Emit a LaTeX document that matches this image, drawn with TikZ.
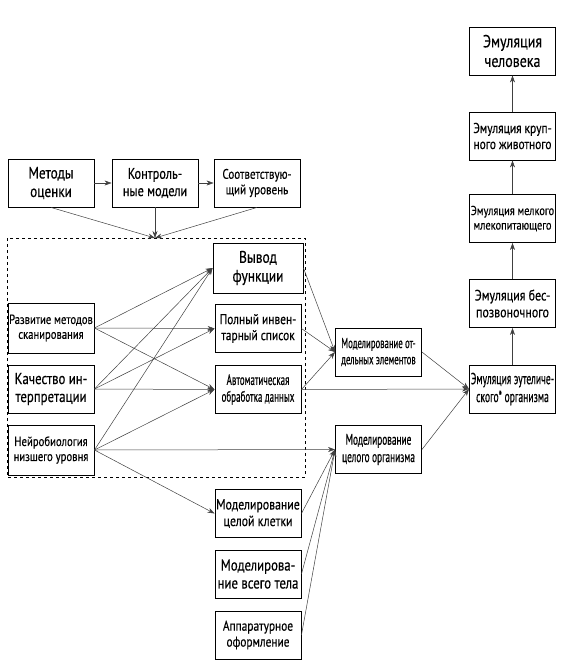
\documentclass[tikz,border=0pt]{standalone}
\usepackage{fontspec}
\setmainfont[FakeStretch=0.8,FakeBold=0.4]{PT Sans}
\newfontfamily\narrowfont[FakeStretch=0.6,FakeBold=0.4]{PT Sans}
\usetikzlibrary{arrows.meta}
\newcommand\fs[1]{\fontsize{#1}{1.12\dimexpr#1pt\relax}\selectfont}
\begin{document}
\begin{tikzpicture}[x=1pt,y=-1pt,
    box/.style={draw,line width=0.9pt,minimum width=86pt,minimum height=48pt,
      align=center,inner sep=1pt},
    link/.style={-{Stealth[length=7pt,width=5pt]},draw=black!75,line width=0.5pt}]
    \useasboundingbox (0,0) rectangle (561,667);
    \draw[dashed,line width=0.6pt] (7,238) rectangle (305,477);
    \coordinate (top) at (155,238);

    \node[box,font=\fs{16.5}] (met) at (51,183) {Методы\\оценки};
    \node[box,font=\fs{15.4}] (ctl) at (155,183) {Контроль-\\ные модели};
    \node[box,font=\fs{13.8}] (sootv) at (257,183) {Соответствую-\\щий уровень};

    \node[box,minimum height=50pt,font=\fs{13.3}] (razv) at (51,328) {Развитие методов\\сканирования};
    \node[box,font=\fs{16}] (kach) at (51,389) {Качество ин-\\терпретации};
    \node[box,minimum height=50pt,font=\fs{13.4}] (neuro) at (51,450) {Нейробиология\\низшего уровня};

    \node[box,minimum width=90pt,minimum height=50pt,font=\fs{16.8}] (vyv) at (258,268) {Вывод\\функции};
    \node[box,font=\fs{14.3}] (poln) at (258,328.5) {Полный инвен-\\тарный список};
    \node[box,font=\narrowfont\fs{15}] (avto) at (258,389.5) {Автоматическая\\обработка данных};

    \node[box,font=\narrowfont\fs{14.5}] (modotd) at (378.5,352) {Моделирование от-\\дельных элементов};
    \node[box,font=\narrowfont\fs{15.5}] (modorg) at (378.5,449.5) {Моделирование\\целого организма};

    \node[box,font=\fs{14.8}] (klet) at (258,513.5) {Моделирование\\целой клетки};
    \node[box,font=\fs{16}] (telo) at (258,574) {Моделирова-\\ние всего тела};
    \node[box,font=\fs{14.2}] (app) at (258,635) {Аппаратурное\\оформление};

    \node[box,font=\narrowfont\fs{16}] (eut) at (512.5,389) {Эмуляция эутеличе-\\ского* организма};
    \node[box,font=\fs{15}] (besp) at (512.5,303.5) {Эмуляция бес-\\позвоночного};
    \node[box,font=\fs{13}] (melk) at (512.5,218.5) {Эмуляция мелкого\\млекопитающего};
    \node[box,font=\fs{14.3}] (krup) at (512.5,136) {Эмуляция круп-\\ного животного};
    \node[box,font=\fs{17.5}] (chel) at (512.5,51) {Эмуляция\\человека};

    \draw[link] (met) -- (ctl);
    \draw[link] (ctl) -- (sootv);
    \draw[link] (met.south) -- (top);
    \draw[link] (ctl.south) -- (top);
    \draw[link] (sootv.south) -- (top);

    \draw[link] (razv.east) -- (vyv.west);
    \draw[link] (razv.east) -- (poln.west);
    \draw[link] (razv.east) -- (avto.west);
    \draw[link] (kach.east) -- (vyv.west);
    \draw[link] (kach.east) -- (poln.west);
    \draw[link] (kach.east) -- (avto.west);
    \draw[link] (neuro.east) -- (vyv.west);
    \draw[link] (neuro.east) -- (avto.west);
    \draw[link] (neuro.east) -- (modorg.west);
    \draw[link] (neuro.east) -- (klet.west);

    \draw[link] (vyv.east) -- (modotd.west);
    \draw[link] (poln.east) -- (modotd.west);
    \draw[link] (avto.east) -- (modotd.west);
    \draw[link] (avto.east) -- (eut.west);
    \draw[link] (modotd.east) -- (eut.west);
    \draw[link] (modorg.east) -- (eut.west);
    \draw[link] (klet.east) -- (modorg.west);
    \draw[link] (telo.east) -- (modorg.west);
    \draw[link] (app.east) -- (modorg.west);

    \draw[link] (eut) -- (besp);
    \draw[link] (besp) -- (melk);
    \draw[link] (melk) -- (krup);
    \draw[link] (krup) -- (chel);
\end{tikzpicture}
\end{document}
